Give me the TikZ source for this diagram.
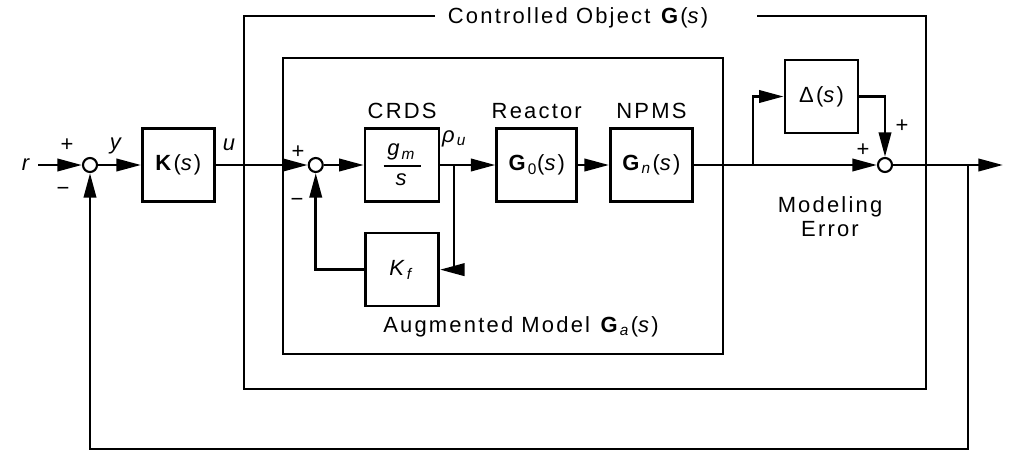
\documentclass[tikz,border=0pt]{standalone}
\usepackage{amsmath}
\usepackage{fontspec}
\setmainfont{Liberation Sans}[LetterSpace=10]
\usetikzlibrary{arrows.meta, positioning}

\begin{document}
\begin{tikzpicture}[
    node distance=0.8cm and 0.8cm,
    every node/.style={font=\fontsize{12.5}{14}\selectfont},
    block/.style={rectangle, draw, line width=1.5pt, minimum width=1.46cm, minimum height=1.46cm, align=center, inner sep=1pt},
    junction/.style={circle, draw, fill=white, line width=1.2pt, minimum size=0.28cm, inner sep=0pt},
    frame/.style={line width=0.9pt},
    arrow/.style={-{Triangle[length=14pt, width=7pt]}, line width=1.6pt}
]
    \useasboundingbox (0,0) rectangle (20.18,9.14);

    % Frames
    \node (gtitle) at (11.56,8.78) {Controlled Object \textbf{G}(\textit{s})};
    \draw [frame] (8.70,8.82) -| (4.88,1.36) -| (18.52,8.82) -- (15.14,8.82);
    \draw [frame] (5.66,2.06) rectangle (14.46,7.98);
    \node (gatitle) at (10.42,2.60) {Augmented Model \textbf{G}\textsubscript{\textit{a}}(\textit{s})};

    % Nodes
    \node (r) at (0.54,5.84) {\textit{r}};
    \node (sum1) [junction] at (1.80,5.84) {};
    \node (ks) [block, right=0.86cm of sum1, minimum width=1.44cm] {\textbf{K}(\textit{s})};
    \node (sum2) [junction, right=1.84cm of ks] {};
    \node (crds) [block, right=0.80cm of sum2, minimum width=1.48cm] {$\genfrac{}{}{0.9pt}{0}{\mbox{\,\textit{g}\textsubscript{\textit{m}}\,}}{\mbox{\textit{s}}}$};
    \node (g0) [block, right=1.10cm of crds, minimum width=1.60cm] {\textbf{G}\textsubscript{0}(\textit{s})};
    \node (gn) [block, right=0.62cm of g0, minimum width=1.64cm] {\textbf{G}\textsubscript{\textit{n}}(\textit{s})};
    \node (kf) [block, below=0.58cm of crds] {\textit{K}\textsubscript{\textit{f}}};
    \node (delta) [block] at (16.43,7.21) {Δ(\textit{s})};
    \node (sum3) [junction] at (17.70,5.84) {};
    \coordinate (out) at (20.06,5.84);

    % Labels
    \node (crdslabel) [above=0.05cm of crds] {CRDS};
    \node (g0label) [above=0.05cm of g0] {Reactor};
    \node (gnlabel) [above=0.05cm of gn] {NPMS};
    \node (errlabel) [align=center] at (16.60,4.81) {Modeling\\Error};
    \node (ylabel) at (2.34,6.22) {\textit{y}};
    \node (ulabel) at (4.60,6.24) {\textit{u}};
    \node (rholabel) at (9.10,6.36) {\textit{ρ}\textsubscript{\textit{u}}};
    \node (plus1) at (1.34,6.24) {+};
    \node (minus1) at (1.26,5.32) {−};
    \node (plus2) at (5.96,6.10) {+};
    \node (minus2) at (5.94,5.10) {−};
    \node (plus3) at (17.26,6.14) {+};
    \node (plus4) at (18.04,6.62) {+};

    % Connections
    \draw [arrow] (r) -- (sum1);
    \draw [arrow] (sum1) -- (ks);
    \draw [arrow] (ks) -- (sum2);
    \draw [arrow] (sum2) -- (crds);
    \draw [arrow] (crds) -- (g0);
    \draw [arrow] (g0) -- (gn);
    \draw [arrow] (gn) -- (sum3);
    \draw [arrow] (sum3) -- (out);
    \coordinate (rhobranch) at (9.08,5.84);
    \draw [arrow] (rhobranch) |- (kf);
    \draw [arrow] (kf) -| (sum2);
    \coordinate (deltabranch) at (15.06,5.84);
    \draw [arrow] (deltabranch) |- (delta);
    \draw [arrow] (delta) -| (sum3);
    \coordinate (fbbranch) at (19.36,5.84);
    \coordinate (fbcorner) at (19.36,0.16);
    \draw [arrow] (fbbranch) -- (fbcorner) -| (sum1);
\end{tikzpicture}
\end{document}
